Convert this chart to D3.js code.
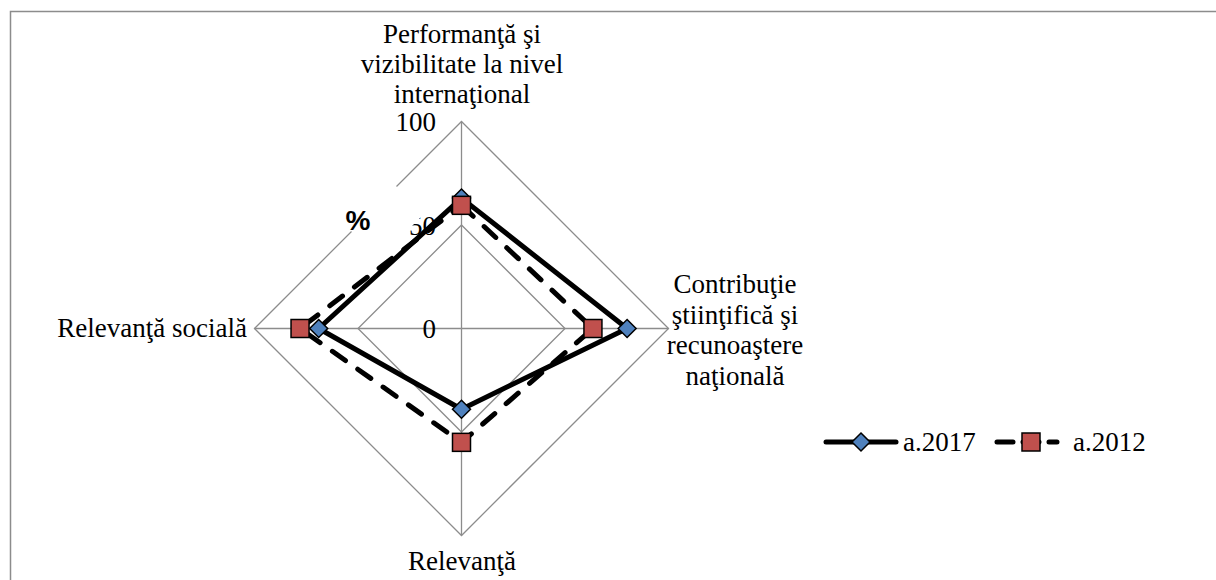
<!DOCTYPE html>
<html>
<head>
<meta charset="utf-8">
<script src="https://cdn.jsdelivr.net/npm/d3@7"></script>
</head>
<body style="margin:0;background:#fff">
<svg id="chart" width="1216" height="580" style="display:block"></svg>
<script>
// ---- data ----
const categories = [
  ["Performanţă şi", "vizibilitate la nivel", "internaţional"],
  ["Contribuţie", "ştiinţifică şi", "recunoaştere", "naţională"],
  ["Relevanţă"],
  ["Relevanţă socială"]
];
const seriesNames = ["a.2017", "a.2012"];
const values2017 = [63, 80, 39, 69];
const values2012 = [59.5, 63.5, 55, 78];
const tickValues = [0, 50, 100];
const unitLabel = "%";

// ---- layout ----
const svg = d3.select("#chart");
const cx = 461.5, cy = 328.5, R = 207;
const fs = 27;
const SERIF = '"Liberation Serif"';
const SANS = '"Liberation Sans"';
function serifText(sel) {
  return sel.style("font-family", SERIF).style("font-size", fs + "px").attr("fill", "#000");
}

const r = d3.scaleLinear().domain([0, 100]).range([0, R]);
const angle = d3.scalePoint().domain(d3.range(categories.length)).range([0, 2 * Math.PI * (categories.length - 1) / categories.length]);
const pt = (i, v) => {
  const a = angle(i);
  return [cx + r(v) * Math.sin(a), cy - r(v) * Math.cos(a)];
};

// chart border
svg.append("rect").attr("x", 10.5).attr("y", 11.5).attr("width", 1400).attr("height", 800)
  .attr("fill", "none").attr("stroke", "#8c8c8c").attr("stroke-width", 1.5);

const grid = svg.append("g");
tickValues.filter(t => t > 0).forEach(t => {
  const pts = categories.map((c, i) => pt(i, t));
  grid.append("path").attr("d", d3.line()(pts) + "Z")
    .attr("fill", "none").attr("stroke", "#8c8c8c").attr("stroke-width", 1.3);
});
categories.forEach((c, i) => {
  const [x, y] = pt(i, 100);
  grid.append("line").attr("x1", cx).attr("y1", cy).attr("x2", x).attr("y2", y)
    .attr("stroke", "#8c8c8c").attr("stroke-width", 1.3);
});

// tick labels on first axis
tickValues.forEach(t => {
  const [x, y] = pt(0, t);
  serifText(svg.append("text"))
    .attr("x", 436).attr("y", y).attr("dy", "0.37em")
    .attr("text-anchor", "end").text(t);
});

// rotated white box of the "%" axis title (hides part of the grid as in original)
const band = [[120, 545], [210, 545], [210, 638], [120, 638]]
  .map(([v, u]) => [(u + v) / 2, (u - v) / 2]);
svg.append("path").attr("d", d3.line()(band) + "Z").attr("fill", "#fff");
svg.append("text").style("font-family", SANS).style("font-size", "28px").style("font-weight", "bold")
  .attr("x", 358).attr("y", 230).attr("text-anchor", "middle").attr("fill", "#000").text(unitLabel);

// category labels
const lh = 30;
const labelPos = [
  { x: 462, y: 43, anchor: "middle" },
  { x: 735, y: 293, anchor: "middle" },
  { x: 462, y: 570, anchor: "middle" },
  { x: 247, y: 337, anchor: "end" }
];
categories.forEach((lines, i) => {
  const p = labelPos[i];
  lines.forEach((ln, k) => {
    serifText(svg.append("text"))
      .attr("text-anchor", p.anchor).attr("x", p.x).attr("y", p.y + k * (i === 1 ? 30.5 : lh)).text(ln);
  });
});

// series
const series = [
  { name: seriesNames[0], values: values2017, dash: null, marker: "diamond", fill: "#4f81bd" },
  { name: seriesNames[1], values: values2012, dash: "16 15", marker: "square", fill: "#c0504d" }
];
const lineGen = d3.line().curve(d3.curveLinearClosed);
series.forEach(s => {
  svg.append("path").attr("d", lineGen(s.values.map((v, i) => pt(i, v))))
    .attr("fill", "none").attr("stroke", "#000").attr("stroke-width", 5)
    .attr("stroke-linecap", "round").attr("stroke-linejoin", "round")
    .attr("stroke-dasharray", s.dash);
});
function drawMarker(g, type, x, y, fill) {
  if (type === "diamond") {
    g.append("path").attr("d", `M${x},${y - 9}L${x + 9},${y}L${x},${y + 9}L${x - 9},${y}Z`)
      .attr("fill", fill).attr("stroke", "#000").attr("stroke-width", 1.5);
  } else {
    g.append("rect").attr("x", x - 9).attr("y", y - 9).attr("width", 18).attr("height", 18)
      .attr("fill", fill).attr("stroke", "#000").attr("stroke-width", 1.5);
  }
}
const mk = svg.append("g");
series.forEach(s => {
  s.values.forEach((v, i) => {
    const [x, y] = pt(i, v);
    drawMarker(mk, s.marker, x, y, s.fill);
  });
});

// legend
const legY = 442;
const leg = svg.append("g");
const legItems = [
  { x0: 826, x1: 896, mx: 861, tx: 903, dash: null },
  { x0: 997, x1: 1057, mx: 1031, tx: 1073, dash: "16 10" }
];
series.forEach((s, i) => {
  const L = legItems[i];
  leg.append("line").attr("x1", L.x0).attr("x2", L.x1).attr("y1", legY).attr("y2", legY)
    .attr("stroke", "#000").attr("stroke-width", 5).attr("stroke-linecap", "round")
    .attr("stroke-dasharray", L.dash);
  drawMarker(leg, s.marker, L.mx, legY, s.fill);
  serifText(leg.append("text"))
    .attr("x", L.tx).attr("y", legY).attr("dy", "0.35em").text(s.name);
});
</script>
</body>
</html>
